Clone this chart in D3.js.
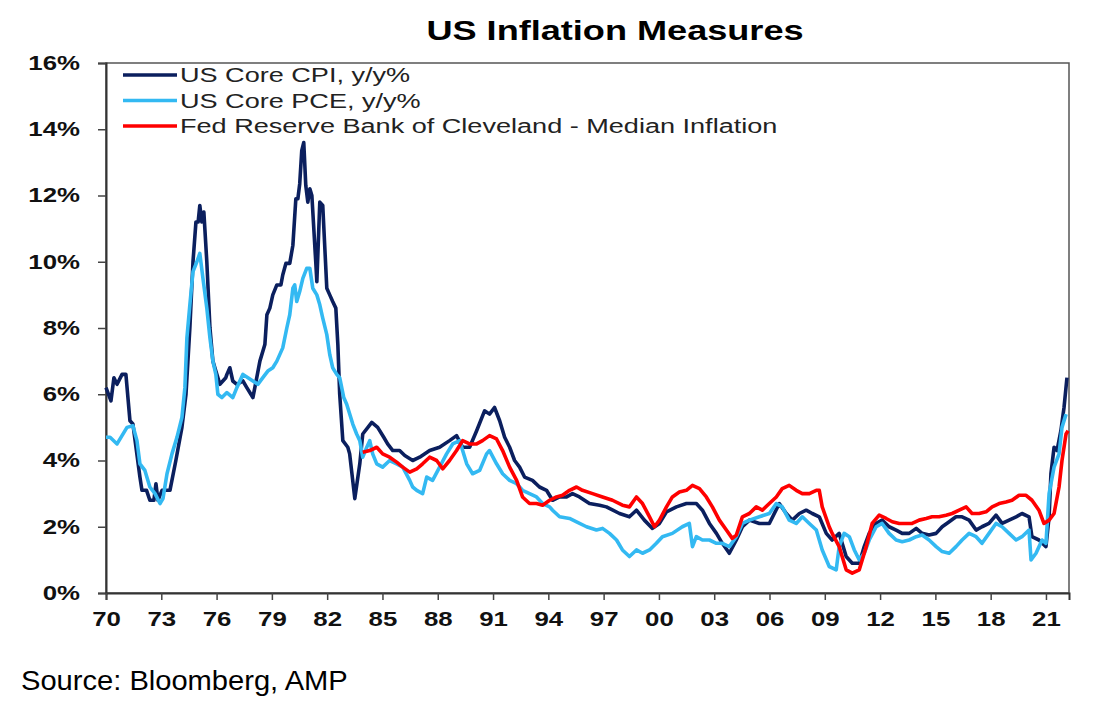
<!DOCTYPE html>
<html>
<head>
<meta charset="utf-8">
<script src="https://cdn.jsdelivr.net/npm/d3@7"></script>
<style>
  body { margin: 0; background: #fff; }
  svg { display: block; }
  text { font-family: "Liberation Sans", Arial, sans-serif; }
</style>
</head>
<body>
<div id="chartDiv"></div>
<script>
// series: [decimal year, y/y %]
var coreCpi = [
	[1970.00,6.2],[1970.27,5.8],[1970.43,6.5],[1970.60,6.3],[1970.87,6.6],[1971.08,6.6],[1971.30,5.2],
	[1971.46,5.1],[1971.84,3.5],[1971.95,3.1],[1972.20,3.1],[1972.38,2.8],[1972.60,2.8],[1972.71,3.3],
	[1972.82,2.8],[1973.04,3.1],[1973.47,3.1],[1973.79,4.0],[1974.12,5.0],[1974.34,6.0],[1974.55,8.0],
	[1974.72,10.0],[1974.88,11.2],[1975.00,11.2],[1975.09,11.7],[1975.20,11.2],[1975.31,11.5],[1975.47,10.0],
	[1975.64,8.0],[1975.80,7.0],[1975.96,6.7],[1976.18,6.3],[1976.50,6.5],[1976.56,6.6],[1976.72,6.8],
	[1976.88,6.4],[1977.10,6.3],[1977.43,6.4],[1977.64,6.2],[1977.97,5.9],[1978.18,6.5],[1978.35,7.0],
	[1978.62,7.5],[1978.73,8.4],[1978.89,8.6],[1979.05,9.0],[1979.27,9.3],[1979.49,9.3],[1979.59,9.6],
	[1979.76,9.95],[1979.97,9.95],[1980.14,10.5],[1980.30,11.9],[1980.41,11.9],[1980.51,12.35],[1980.62,13.35],
	[1980.73,13.6],[1980.84,12.3],[1980.95,11.8],[1981.06,12.2],[1981.17,12.0],[1981.38,10.0],[1981.44,9.4],
	[1981.60,11.8],[1981.76,11.7],[1981.98,9.2],[1982.14,9.0],[1982.30,8.8],[1982.47,8.6],[1982.58,7.5],
	[1982.68,6.0],[1982.85,4.6],[1983.12,4.4],[1983.22,4.2],[1983.50,2.85],[1983.77,3.9],[1983.93,4.8],
	[1984.42,5.15],[1984.74,5.0],[1985.07,4.7],[1985.28,4.5],[1985.56,4.3],[1985.93,4.3],[1986.21,4.15],
	[1986.64,4.0],[1987.02,4.1],[1987.56,4.3],[1988.10,4.4],[1988.64,4.6],[1989.02,4.75],[1989.35,4.4],
	[1989.73,4.4],[1990.11,4.9],[1990.54,5.5],[1990.81,5.4],[1991.08,5.6],[1991.36,5.2],[1991.63,4.7],
	[1991.90,4.4],[1992.17,4.0],[1992.44,3.8],[1992.71,3.5],[1993.14,3.4],[1993.52,3.2],[1993.90,3.1],
	[1994.23,2.8],[1994.61,2.9],[1994.99,2.9],[1995.31,3.0],[1995.69,2.9],[1996.23,2.7],[1996.78,2.65],
	[1997.15,2.6],[1997.86,2.4],[1998.40,2.3],[1998.78,2.5],[1999.21,2.2],[1999.65,1.95],[2000.03,2.1],
	[2000.41,2.45],[2000.95,2.6],[2001.49,2.7],[2002.03,2.7],[2002.36,2.5],[2002.74,2.1],[2003.12,1.8],
	[2003.44,1.5],[2003.82,1.2],[2004.20,1.6],[2004.53,2.0],[2004.91,2.2],[2005.45,2.1],[2005.99,2.1],
	[2006.53,2.7],[2006.91,2.4],[2007.24,2.2],[2007.62,2.4],[2007.99,2.5],[2008.32,2.4],[2008.70,2.3],
	[2009.08,1.8],[2009.40,1.6],[2009.78,1.8],[2010.16,1.1],[2010.49,0.9],[2010.87,0.9],[2011.14,1.4],
	[2011.41,1.8],[2011.79,2.1],[2012.11,2.2],[2012.49,2.0],[2012.87,1.9],[2013.20,1.8],[2013.58,1.8],
	[2013.96,1.95],[2014.28,1.8],[2014.66,1.75],[2015.04,1.8],[2015.37,2.0],[2015.75,2.15],[2016.12,2.3],
	[2016.45,2.3],[2016.83,2.2],[2017.21,1.9],[2017.53,2.0],[2017.91,2.1],[2018.29,2.35],[2018.62,2.1],
	[2019.00,2.2],[2019.38,2.3],[2019.70,2.4],[2020.08,2.3],[2020.24,1.7],[2020.62,1.6],[2021.00,1.4],
	[2021.17,2.3],[2021.27,3.6],[2021.44,4.4],[2021.60,4.3],[2021.81,4.9],[2021.98,5.6],[2022.14,6.5]
];

var corePce = [
	[1970.00,4.7],[1970.22,4.7],[1970.60,4.5],[1970.87,4.75],[1971.14,5.0],[1971.46,5.05],[1971.68,4.6],
	[1971.84,3.9],[1972.11,3.7],[1972.38,3.2],[1972.66,3.0],[1972.93,2.7],[1973.09,2.85],[1973.31,3.6],
	[1973.58,4.2],[1973.85,4.7],[1974.12,5.3],[1974.28,6.2],[1974.39,7.7],[1974.55,8.7],[1974.72,9.7],
	[1974.93,10.0],[1975.09,10.25],[1975.26,9.5],[1975.47,8.6],[1975.64,7.7],[1975.80,7.0],[1975.96,6.6],
	[1976.07,6.0],[1976.29,5.9],[1976.56,6.05],[1976.88,5.9],[1977.10,6.2],[1977.43,6.6],[1977.70,6.5],
	[1977.97,6.4],[1978.24,6.3],[1978.51,6.5],[1978.78,6.7],[1979.05,6.8],[1979.27,7.0],[1979.59,7.4],
	[1979.81,8.0],[1979.97,8.4],[1980.14,9.2],[1980.24,9.3],[1980.35,8.8],[1980.51,9.1],[1980.68,9.5],
	[1980.89,9.8],[1981.06,9.8],[1981.22,9.2],[1981.44,9.0],[1981.60,8.7],[1981.76,8.3],[1981.98,7.8],
	[1982.14,7.2],[1982.30,6.8],[1982.52,6.6],[1982.68,6.5],[1982.90,5.9],[1983.06,5.7],[1983.39,5.1],
	[1983.60,4.8],[1983.77,4.6],[1983.93,4.1],[1984.15,4.4],[1984.31,4.6],[1984.47,4.2],[1984.69,3.9],
	[1985.01,3.8],[1985.39,4.0],[1985.77,3.9],[1986.10,3.8],[1986.48,3.4],[1986.64,3.2],[1986.86,3.1],
	[1987.18,3.0],[1987.40,3.5],[1987.72,3.4],[1988.10,3.8],[1988.48,4.2],[1988.81,4.5],[1989.19,4.6],
	[1989.35,4.3],[1989.57,3.9],[1989.89,3.6],[1990.27,3.7],[1990.65,4.2],[1990.81,4.3],[1991.19,3.9],
	[1991.52,3.6],[1991.90,3.4],[1992.28,3.3],[1992.60,3.1],[1992.98,3.0],[1993.36,2.9],[1993.69,2.7],
	[1994.07,2.6],[1994.23,2.5],[1994.61,2.3],[1995.15,2.25],[1995.53,2.15],[1996.07,2.0],[1996.61,1.9],
	[1996.94,1.95],[1997.32,1.8],[1997.70,1.6],[1998.02,1.3],[1998.40,1.1],[1998.78,1.3],[1999.11,1.2],
	[1999.49,1.3],[1999.86,1.5],[2000.19,1.7],[2000.73,1.8],[2001.27,2.0],[2001.65,2.1],[2001.82,1.4],
	[2002.03,1.7],[2002.36,1.6],[2002.74,1.6],[2003.12,1.5],[2003.44,1.5],[2003.82,1.4],[2004.20,1.7],
	[2004.53,2.1],[2004.91,2.2],[2005.45,2.3],[2005.99,2.4],[2006.37,2.7],[2006.69,2.6],[2007.07,2.2],
	[2007.45,2.1],[2007.78,2.3],[2008.16,2.1],[2008.54,1.9],[2008.86,1.3],[2009.24,0.8],[2009.62,0.7],
	[2009.78,1.4],[2010.05,1.8],[2010.33,1.7],[2010.60,1.3],[2010.87,1.0],[2011.14,1.2],[2011.41,1.6],
	[2011.79,2.0],[2012.11,2.1],[2012.49,1.8],[2012.87,1.6],[2013.20,1.55],[2013.58,1.6],[2013.96,1.7],
	[2014.28,1.75],[2014.66,1.6],[2015.04,1.4],[2015.37,1.25],[2015.75,1.2],[2016.12,1.4],[2016.45,1.6],
	[2016.83,1.8],[2017.21,1.7],[2017.53,1.5],[2017.91,1.8],[2018.29,2.1],[2018.62,2.0],[2019.00,1.8],
	[2019.38,1.6],[2019.70,1.7],[2020.08,1.9],[2020.19,1.0],[2020.46,1.2],[2020.79,1.6],[2021.00,1.5],
	[2021.17,3.0],[2021.44,3.8],[2021.71,4.2],[2021.87,5.0],[2022.09,5.4]
];

var medianCpi = [
	[1983.93,4.25],[1984.31,4.3],[1984.69,4.4],[1985.01,4.2],[1985.39,4.1],[1985.77,3.95],[1986.10,3.8],
	[1986.48,3.65],[1986.86,3.75],[1987.18,3.9],[1987.56,4.1],[1987.94,4.0],[1988.27,3.75],[1988.64,4.0],
	[1989.02,4.3],[1989.35,4.6],[1989.73,4.5],[1990.11,4.5],[1990.43,4.6],[1990.81,4.75],[1991.19,4.65],
	[1991.52,4.3],[1991.90,3.8],[1992.28,3.4],[1992.60,2.9],[1992.98,2.7],[1993.36,2.7],[1993.69,2.65],
	[1994.07,2.8],[1994.44,2.9],[1994.77,2.95],[1995.15,3.1],[1995.53,3.2],[1995.85,3.1],[1996.40,3.0],
	[1996.94,2.9],[1997.48,2.8],[1998.02,2.65],[1998.40,2.6],[1998.78,2.9],[1999.11,2.7],[1999.49,2.3],
	[1999.76,2.0],[2000.03,2.2],[2000.41,2.6],[2000.73,2.9],[2001.11,3.05],[2001.49,3.1],[2001.82,3.25],
	[2002.20,3.15],[2002.57,2.9],[2002.90,2.6],[2003.28,2.2],[2003.66,1.9],[2003.98,1.65],[2004.20,1.75],
	[2004.53,2.3],[2004.91,2.4],[2005.28,2.6],[2005.61,2.5],[2005.99,2.7],[2006.37,2.9],[2006.69,3.15],
	[2007.07,3.25],[2007.45,3.1],[2007.78,3.0],[2008.16,3.0],[2008.54,3.1],[2008.70,3.1],[2008.86,2.6],
	[2009.24,2.0],[2009.40,1.8],[2009.78,1.4],[2010.16,0.7],[2010.49,0.6],[2010.87,0.7],[2011.03,1.0],
	[2011.25,1.4],[2011.57,2.1],[2011.95,2.35],[2012.33,2.25],[2012.66,2.15],[2013.04,2.1],[2013.41,2.1],
	[2013.74,2.1],[2014.12,2.2],[2014.50,2.25],[2014.82,2.3],[2015.20,2.3],[2015.58,2.35],[2015.91,2.4],
	[2016.29,2.5],[2016.67,2.6],[2016.99,2.4],[2017.37,2.4],[2017.75,2.45],[2018.08,2.6],[2018.46,2.7],
	[2018.83,2.75],[2019.16,2.8],[2019.54,2.95],[2019.92,2.95],[2020.24,2.8],[2020.62,2.5],[2020.89,2.1],
	[2021.17,2.2],[2021.44,2.4],[2021.71,3.2],[2021.87,4.0],[2022.09,4.8],[2022.20,4.9]
];

var seriesNames = ["US Core CPI, y/y%", "US Core PCE, y/y%", "Fed Reserve Bank of Cleveland - Median Inflation"];
var seriesColors = ["#0b1f5e", "#33b9f2", "#ff0000"];
var yTicks = [0, 2, 4, 6, 8, 10, 12, 14, 16];
var xTicks = [1970, 1973, 1976, 1979, 1982, 1985, 1988, 1991, 1994, 1997, 2000, 2003, 2006, 2009, 2012, 2015, 2018, 2021];

var width = 1096, height = 717;
var margin = {left: 106, right: 27, top: 63, bottom: 124};
var stretch = 1.29; // the original text is set wide

var svg = d3.select("#chartDiv").append("svg")
	.attr("width", width).attr("height", height);

var x = d3.scaleLinear().domain([1970, 2022.25]).range([margin.left, width - margin.right]);
var y = d3.scaleLinear().domain([0, 16]).range([height - margin.bottom, margin.top]);

// title
svg.append("text")
	.attr("transform", "translate(615,40) scale(" + stretch + ",1)")
	.attr("text-anchor", "middle")
	.style("font-size", "28px").style("font-weight", "bold")
	.text("US Inflation Measures");

// frame
svg.append("rect")
	.attr("x", x.range()[0]).attr("y", y.range()[1])
	.attr("width", x.range()[1] - x.range()[0])
	.attr("height", y.range()[0] - y.range()[1])
	.attr("fill", "none").attr("stroke", "#555").attr("stroke-width", 1.5);

var yAxis = svg.append("g")
	.attr("transform", "translate(" + margin.left + ",0)")
	.call(d3.axisLeft(y).tickValues(yTicks).tickSize(8)
		.tickFormat(function(d) { return d + "%"; }));

var xAxis = svg.append("g")
	.attr("transform", "translate(0," + (height - margin.bottom) + ")")
	.call(d3.axisBottom(x).tickValues(xTicks).tickSize(7).tickPadding(7)
		.tickFormat(function(d) { return d3.format("02")(d % 100); }));

[yAxis, xAxis].forEach(function(ax) {
	ax.select(".domain").attr("stroke", "#333").attr("stroke-width", 2);
	ax.selectAll(".tick line").attr("stroke", "#444").attr("stroke-width", 1.5);
	ax.selectAll("text")
		.attr("fill", "#111")
		.attr("transform", "scale(" + stretch + ",1)")
		.style("font-family", "'Liberation Sans', Arial, sans-serif")
		.style("font-size", "20px").style("font-weight", "bold");
});
yAxis.selectAll("text").attr("x", -26 / stretch);
xAxis.selectAll("text").attr("dy", "0.95em");

var line = d3.line()
	.x(function(d) { return x(d[0]); })
	.y(function(d) { return y(d[1]); });

var allSeries = [coreCpi, corePce, medianCpi];
svg.append("g").selectAll("path")
	.data(allSeries)
	.join("path")
	.attr("d", line)
	.attr("fill", "none")
	.attr("stroke", function(d, i) { return seriesColors[i]; })
	.attr("stroke-width", 3.6)
	.attr("stroke-linejoin", "round");

// legend
var legend = svg.append("g").selectAll("g")
	.data(seriesNames)
	.join("g")
	.attr("transform", function(d, i) { return "translate(123," + (75 + i * 25.5) + ")"; });
legend.append("line")
	.attr("x1", 0).attr("x2", 54)
	.attr("stroke", function(d, i) { return seriesColors[i]; })
	.attr("stroke-width", 3.5);
legend.append("text")
	.attr("transform", "translate(57,0) scale(" + stretch + ",1)")
	.attr("dy", "0.35em")
	.style("font-size", "21px").attr("fill", "#222")
	.text(function(d) { return d; });

// source
svg.append("text")
	.attr("transform", "translate(21,690) scale(1.04,1)")
	.style("font-size", "28px").attr("fill", "#000")
	.text("Source: Bloomberg, AMP");
</script>
</body>
</html>
